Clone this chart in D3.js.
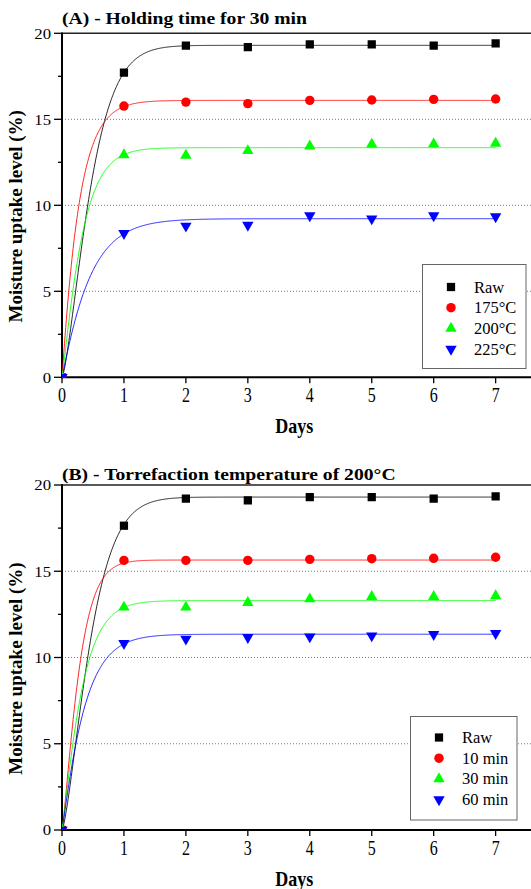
<!DOCTYPE html>
<html>
<head>
<meta charset="utf-8">
<script src="https://cdn.jsdelivr.net/npm/d3@7"></script>
<style>
  body { margin: 0; background: #fff; }
  svg { display: block; font-family: "Liberation Serif", "Times New Roman", serif; }
</style>
</head>
<body>
<div id="chart"></div>
<script>
// measured values, days 0..7
const days = [0, 1, 2, 3, 4, 5, 6, 7];

// panel A - holding time 30 min
const rawA = [0, 17.71, 19.28, 19.19, 19.36, 19.36, 19.28, 19.42];
const temp175 = [0, 15.77, 16.0, 15.91, 16.1, 16.12, 16.16, 16.18];
const temp200 = [0, 12.93, 12.9, 13.17, 13.44, 13.55, 13.56, 13.6];
const temp225 = [0, 8.37, 8.8, 8.85, 9.4, 9.22, 9.4, 9.34];

// panel B - torrefaction temperature 200 C
const rawB = [0, 17.64, 19.21, 19.11, 19.29, 19.29, 19.21, 19.34];
const hold10 = [0, 15.63, 15.63, 15.63, 15.69, 15.73, 15.75, 15.81];
const hold30 = [0, 12.91, 12.91, 13.18, 13.39, 13.53, 13.53, 13.57];
const hold60 = [0, 10.82, 11.07, 11.17, 11.2, 11.26, 11.34, 11.4];

// fitted curve parameters [asymptote, k, n]  y = a(1 - exp(-k t^n))
const fitA = [[19.3, 2.5, 1.4], [16.1, 3.8, 1.05], [13.35, 3.5, 1.15], [9.22, 2.35, 1.07]];
const fitB = [[19.3, 2.5, 1.4], [15.65, 4.5, 1.25], [13.3, 3.5, 1.15], [11.35, 3.0, 1.1]];

const labelsA = ["Raw", "175\u00B0C", "200\u00B0C", "225\u00B0C"];
const labelsB = ["Raw", "10 min", "30 min", "60 min"];

const xTicks = [0, 1, 2, 3, 4, 5, 6, 7];
const yTicks = [0, 5, 10, 15, 20];

const colors = ["#000000", "#ff0000", "#00ff00", "#0000ff"];
const shapes = [d3.symbolSquare, d3.symbolCircle, d3.symbolTriangle, d3.symbolTriangle];
const sizes = [68, 70, 56, 56];
const flip = [0, 0, 0, 180];

const W = 531, H = 889;
const svg = d3.select("#chart").append("svg")
    .attr("width", W)
    .attr("height", H);

const defs = svg.append("defs");

function draw(p) {
    const x = d3.scaleLinear().domain([0, 7.6]).range([62, 532.8]);
    const y = d3.scaleLinear().domain([0, 20]).range([p.y0, p.y20]);
    const g = svg.append("g");

    defs.append("clipPath").attr("id", p.id)
      .append("rect")
        .attr("x", x(0)).attr("y", y(20))
        .attr("width", x(7.6) - x(0)).attr("height", y(0) - y(20));

    // dotted grid
    g.selectAll(".grid").data([5, 10, 15]).enter().append("line")
        .attr("x1", x(0)).attr("x2", W)
        .attr("y1", d => y(d)).attr("y2", d => y(d))
        .attr("stroke", "#777")
        .attr("stroke-width", 1)
        .attr("stroke-dasharray", "1,2");

    // y axis ticks
    g.selectAll(".ymaj").data(yTicks).enter().append("line")
        .attr("x1", x(0) - 8).attr("x2", x(0))
        .attr("y1", d => y(d)).attr("y2", d => y(d))
        .attr("stroke", "#000").attr("stroke-width", 1.3);
    g.selectAll(".ymin").data([2.5, 7.5, 12.5, 17.5]).enter().append("line")
        .attr("x1", x(0) - 4).attr("x2", x(0))
        .attr("y1", d => y(d)).attr("y2", d => y(d))
        .attr("stroke", "#000").attr("stroke-width", 1.3);
    g.selectAll(".ylab").data(yTicks).enter().append("text")
        .attr("transform", d => `translate(51,${y(d)}) scale(1.08,1)`)
        .attr("text-anchor", "end")
        .attr("dominant-baseline", "central")
        .attr("font-size", 15.5)
        .text(d => d);

    // x axis ticks
    g.selectAll(".xmaj").data(xTicks).enter().append("line")
        .attr("x1", d => x(d)).attr("x2", d => x(d))
        .attr("y1", y(0)).attr("y2", y(0) + 6)
        .attr("stroke", "#000").attr("stroke-width", 1.3);
    g.selectAll(".xlab").data(xTicks).enter().append("text")
        .attr("transform", d => `translate(${x(d)},${y(0) + 24.5}) scale(1,1.25)`)
        .attr("text-anchor", "middle")
        .attr("font-size", 16)
        .text(d => d);

    // frame
    g.append("line").attr("x1", x(0)).attr("x2", W).attr("y1", y(20)).attr("y2", y(20))
        .attr("stroke", "#222").attr("stroke-width", 1.5);
    g.append("line").attr("x1", x(0)).attr("x2", x(0)).attr("y1", y(20) - 0.7).attr("y2", y(0) + 1)
        .attr("stroke", "#000").attr("stroke-width", 2);
    g.append("line").attr("x1", x(0) - 1).attr("x2", W).attr("y1", y(0)).attr("y2", y(0))
        .attr("stroke", "#000").attr("stroke-width", 2);

    // fitted curves
    const ts = d3.range(0, 7.0001, 0.01);
    const line = d3.line().x(d => x(d[0])).y(d => y(d[1]));
    const plot = g.append("g").attr("clip-path", `url(#${p.id})`);
    p.fits.forEach((f, i) => {
        const pts = ts.map(t => [t, f[0] * (1 - Math.exp(-f[1] * Math.pow(t, f[2])))]);
        plot.append("path")
            .attr("d", line(pts))
            .attr("fill", "none")
            .attr("stroke", colors[i])
            .attr("stroke-opacity", 0.85)
            .attr("stroke-width", 1);
    });

    // markers
    p.series.forEach((s, i) => {
        plot.selectAll(null).data(s).enter().append("path")
            .attr("d", d3.symbol().type(shapes[i]).size(sizes[i]))
            .attr("transform", (d, j) => `translate(${x(days[j])},${y(d)}) rotate(${flip[i]})`)
            .attr("fill", colors[i]);
    });

    // title
    g.append("text")
        .attr("transform", `translate(62,${p.titleY}) scale(1.19,1)`)
        .attr("font-size", 16.5).attr("font-weight", "bold")
        .text(p.title);

    g.append("text")
        .attr("transform", `translate(${x(3.75)},${p.daysY}) scale(1,1.18)`)
        .attr("text-anchor", "middle")
        .attr("font-size", 18).attr("font-weight", "bold")
        .text("Days");

    g.append("text")
        .attr("transform", `translate(22,${(y(0) + y(20)) / 2 + 11}) rotate(-90)`)
        .attr("text-anchor", "middle")
        .attr("font-size", 19).attr("font-weight", "bold")
        .text("Moisture uptake level (%)");

    // legend
    const lg = g.append("g").attr("transform", `translate(${p.leg[0]},${p.leg[1]})`);
    lg.append("rect")
        .attr("x", 0).attr("y", 0)
        .attr("width", p.leg[2]).attr("height", p.leg[3])
        .attr("fill", "#fff").attr("stroke", "#666").attr("stroke-width", 1);
    p.labels.forEach((lab, i) => {
        const ry = p.leg[4] + i * 20.7;
        lg.append("path")
            .attr("d", d3.symbol().type(shapes[i]).size(sizes[i])())
            .attr("transform", `translate(28.5,${ry}) rotate(${flip[i]})`)
            .attr("fill", colors[i]);
        lg.append("text")
            .attr("x", 51.5).attr("y", ry)
            .attr("dominant-baseline", "central")
            .attr("font-size", 16.5)
            .text(lab);
    });
}

draw({
    id: "clipA", y0: 377.3, y20: 33.3, titleY: 24, daysY: 433,
    title: "(A) - Holding time for 30 min",
    series: [rawA, temp175, temp200, temp225], fits: fitA, labels: labelsA,
    leg: [422.5, 264.5, 103.5, 104, 22.5]
});

draw({
    id: "clipB", y0: 830, y20: 485, titleY: 479.5, daysY: 885.5,
    title: "(B) - Torrefaction temperature of 200\u00B0C",
    series: [rawB, hold10, hold30, hold60], fits: fitB, labels: labelsB,
    leg: [410.5, 716.5, 106.5, 103.5, 21]
});
</script>
</body>
</html>
